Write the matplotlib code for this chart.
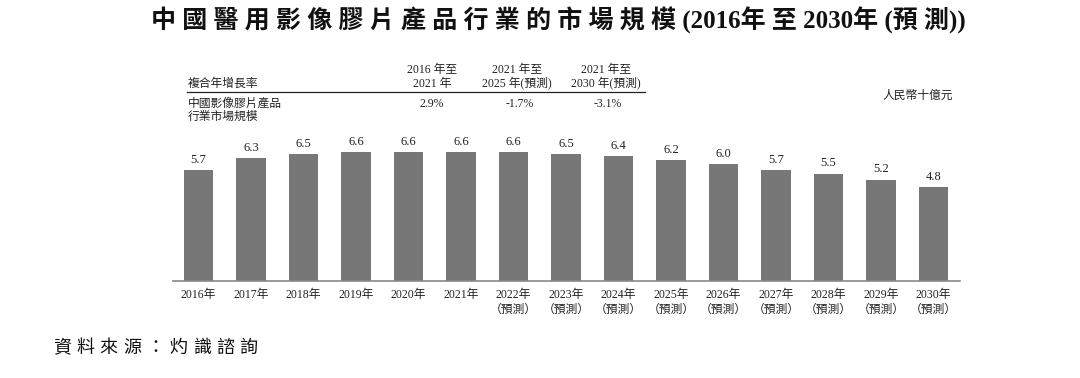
import matplotlib.pyplot as plt
import numpy as np

plt.rcParams['font.family'] = ['Liberation Serif', 'Noto Sans CJK TC', 'DejaVu Sans']

years = ['2016', '2017', '2018', '2019', '2020', '2021', '2022', '2023',
         '2024', '2025', '2026', '2027', '2028', '2029', '2030']
values = [5.7, 6.3, 6.5, 6.6, 6.6, 6.6, 6.6, 6.5, 6.4, 6.2, 6.0, 5.7, 5.5, 5.2, 4.8]
forecast = [False] * 6 + [True] * 9

cagr_periods = [('2016 年至', '2021 年'), ('2021 年至', '2025 年(預測)'), ('2021 年至', '2030 年(預測)')]
cagr_values = ['2.9%', '-1.7%', '-3.1%']

W, H = 1080, 378
fig = plt.figure(figsize=(W / 100, H / 100), dpi=100)

def fx(px):
    return px / W

def fy(py):
    return 1 - py / H

ax = fig.add_axes([fx(173), fy(281), fx(960 - 173), (281 - 100) / H])
x = np.arange(len(years))
ax.bar(x, values, width=0.57, color='#777777', zorder=2)
for xi, v in zip(x, values):
    ax.text(xi, v + 0.22, f'{v:.1f}', ha='center', va='bottom', fontsize=9, color='#222222')
ax.set_xlim(-0.486, 14.505)
ax.set_ylim(0, 181 / 19.5)
for s in ['top', 'right', 'left']:
    ax.spines[s].set_visible(False)
ax.spines['bottom'].set_color('#888888')
ax.spines['bottom'].set_linewidth(1.2)
ax.set_yticks([])
ax.set_xticks(x)
labels = [f'{y}年' + ('\n（預測）' if f else '') for y, f in zip(years, forecast)]
ax.set_xticklabels(labels, fontsize=8.5, color='#222222', linespacing=1.3, va='top')
ax.tick_params(axis='x', length=0, pad=6)

# title
fig.text(fx(558), fy(20), '中 國 醫 用 影 像 膠 片 產 品 行 業 的 市 場 規 模 (2016年 至 2030年 (預 測))',
         ha='center', va='center', fontsize=18, fontweight='bold', color='#111111')

# CAGR table
fig.text(fx(188), fy(84), '複合年增長率', ha='left', va='center', fontsize=8.5, color='#222222')
col_x = [432, 517, 606]
val_x = [432, 520, 608]
for cx, (l1, l2) in zip(col_x, cagr_periods):
    fig.text(fx(cx), fy(70), l1, ha='center', va='center', fontsize=8.5, color='#222222')
    fig.text(fx(cx), fy(84), l2, ha='center', va='center', fontsize=8.5, color='#222222')
fig.add_artist(plt.Line2D([fx(187), fx(645)], [fy(92), fy(92)], color='#222222', linewidth=0.9))
fig.text(fx(188), fy(104), '中國影像膠片產品', ha='left', va='center', fontsize=8.5, color='#222222')
fig.text(fx(188), fy(117), '行業市場規模', ha='left', va='center', fontsize=8.5, color='#222222')
for vx, v in zip(val_x, cagr_values):
    fig.text(fx(vx), fy(104), v, ha='center', va='center', fontsize=8.5, color='#222222')

fig.text(fx(918), fy(96), '人民幣十億元', ha='center', va='center', fontsize=8.5,
         style='italic', color='#222222')

# source
src = '資料來源：灼識諮詢'
for i, ch in enumerate(src):
    fig.text(fx(62 + i * 23.3), fy(348), ch, ha='center', va='center', fontsize=13,
             style='italic', color='#111111')

fig.savefig('out.png', dpi=100)
